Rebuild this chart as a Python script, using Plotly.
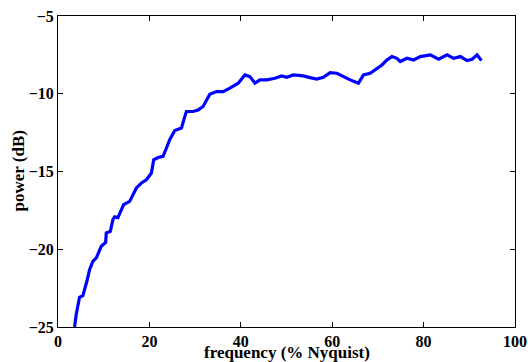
import plotly.graph_objects as go

freq = [3.62, 3.99, 4.71, 5.44, 6.32, 6.91, 7.63, 8.38, 9.47, 10.42, 10.57, 11.45, 12.02, 12.39,
        13.11, 13.86, 14.36, 15.68, 17.15, 18.25, 19.34, 20.44, 20.94, 21.89, 22.98, 23.73, 24.45,
        25.55, 27.02, 27.74, 28.11, 29.56, 30.66, 31.75, 33.22, 34.69, 36.14, 37.61, 39.43, 40.9,
        42.0, 43.09, 44.19, 45.66, 47.48, 48.95, 50.04, 51.49, 53.68, 55.15, 56.62, 58.07, 59.54,
        61.01, 62.46, 63.93, 65.75, 66.84, 68.31, 69.78, 70.88, 71.97, 73.07, 74.17, 74.89, 76.36,
        77.81, 79.28, 81.47, 83.29, 85.13, 86.58, 88.05, 89.52, 90.61, 91.71, 92.65]
power = [-25.0, -24.2, -23.09, -22.98, -22.06, -21.31, -20.78, -20.56, -19.81, -19.56, -18.95, -18.85,
         -18.10, -17.92, -17.97, -17.46, -17.13, -16.92, -16.06, -15.74, -15.53, -15.10, -14.25, -14.10,
         -14.03, -13.49, -12.96, -12.36, -12.21, -11.47, -11.14, -11.14, -11.04, -10.82, -10.03, -9.86,
         -9.86, -9.64, -9.32, -8.79, -8.90, -9.32, -9.11, -9.11, -9.0, -8.85, -8.94, -8.79, -8.85, -8.96,
         -9.06, -8.94, -8.64, -8.68, -8.90, -9.11, -9.32, -8.79, -8.68, -8.36, -8.15, -7.83, -7.61, -7.72,
         -7.93, -7.72, -7.83, -7.61, -7.50, -7.78, -7.50, -7.72, -7.61, -7.87, -7.78, -7.50, -7.87]

x_ticks = [0, 20, 40, 60, 80, 100]
y_ticks = [-25, -20, -15, -10, -5]
y_ticktext = ["\u221225", "\u221220", "\u221215", "\u221210", "\u22125"]
x_title = "frequency (% Nyquist)"
y_title = "power (dB)"

tick_font = dict(family="Liberation Serif", size=16, color="black", weight="bold")
title_font = dict(family="Liberation Serif", size=17, color="black", weight="bold")

fig = go.Figure()
fig.add_trace(go.Scatter(x=freq, y=power, mode="lines",
                         line=dict(color="#0000FF", width=3.2)))

axis_common = dict(showline=True, linecolor="black", linewidth=1, mirror="ticks",
                   ticks="inside", ticklen=5, tickcolor="black", showgrid=False,
                   zeroline=False, tickfont=tick_font, automargin=False)
fig.update_layout(
    width=528, height=362,
    margin=dict(l=58, r=13, t=16, b=35),
    plot_bgcolor="white", paper_bgcolor="white",
    showlegend=False,
    xaxis=dict(range=[0, 100], tickvals=x_ticks, ticktext=[str(v) for v in x_ticks], **axis_common),
    yaxis=dict(range=[-25, -5], tickvals=y_ticks, ticktext=y_ticktext, **axis_common),
    annotations=[
        dict(text=x_title, xref="paper", yref="paper", x=0.5, y=0, xanchor="center",
             yanchor="middle", yshift=-25, showarrow=False, font=title_font),
        dict(text=y_title, xref="paper", yref="paper", x=0, y=0.5, xanchor="center",
             yanchor="middle", xshift=-40, textangle=-90, showarrow=False, font=title_font),
    ],
)
fig.write_html("out.html")
